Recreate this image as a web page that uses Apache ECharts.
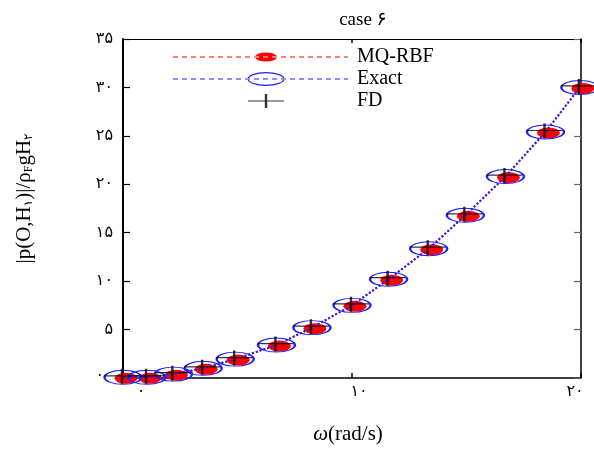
<!DOCTYPE html>
<html>
<head>
<meta charset="utf-8">
<script src="https://cdn.jsdelivr.net/npm/echarts@6/dist/echarts.min.js"></script>
<style>html,body{margin:0;padding:0;background:#fff;}#c{width:594px;height:450px;}</style>
</head>
<body>
<div id="c"></div>
<script>
// ---- data ----
const omega = [0, 1.05, 2.2, 3.5, 4.9, 6.7, 8.25, 10.0, 11.6, 13.35, 14.95, 16.7, 18.45, 19.95];
const mqRbf = [0.07, 0.07, 0.4, 1.0, 1.95, 3.4, 5.2, 7.5, 10.2, 13.35, 16.8, 20.8, 25.4, 30.0];
const exact = [0.07, 0.07, 0.4, 1.0, 1.95, 3.4, 5.2, 7.5, 10.2, 13.35, 16.8, 20.8, 25.4, 30.0];
const fd    = [0.07, 0.07, 0.4, 1.0, 1.95, 3.4, 5.2, 7.5, 10.2, 13.35, 16.8, 20.8, 25.4, 30.0];
const seriesNames = ['MQ-RBF', 'Exact', 'FD'];
const xTickLabels = ['۰', '۱۰', '۲۰'];
const yTickLabels = ['۰', '۵', '۱۰', '۱۵', '۲۰', '۲۵', '۳۰', '۳۵'];
const titleText = 'case ۶';

const pair = (ys) => omega.map((x, i) => [x, ys[i]]);

// ---- legend icon paths (175 x 14 box) ----
function dashes() {
  let s = '';
  for (let x = 0; x < 175; x += 9) {
    const w = Math.min(5, 175 - x);
    s += 'M' + x + ',6.5h' + w + 'v1h-' + w + 'z';
  }
  return s;
}
const box = 'M0,0M175,14';
const iconMQ = 'path://' + box + dashes() + 'M82,7a11,4.5 0 1,0 22,0a11,4.5 0 1,0 -22,0z';
const iconExact = 'path://' + box + dashes() +
  'M74.5,7a18.5,7 0 1,0 37,0a18.5,7 0 1,0 -37,0z' +
  'M75.7,7a17.3,5.8 0 1,1 34.6,0a17.3,5.8 0 1,1 -34.6,0z';
const iconFD = 'path://' + box + 'M75,6.4h36v1.2h-36z M91.8,0h2.4v14h-2.4z';

const serif = '"Liberation Serif", "DejaVu Serif", "DejaVu Sans", serif';
const digitFont = '"DejaVu Sans", sans-serif';

const chart = echarts.init(document.getElementById('c'), null, {renderer: 'canvas'});
const axisBlack = '#000';

chart.setOption({
  animation: false,
  backgroundColor: '#fff',
  title: {
    text: titleText,
    left: 358,
    top: 6,
    textAlign: 'center',
    textStyle: {fontFamily: serif, fontSize: 19, fontWeight: 'normal', color: '#000'}
  },
  legend: {
    orient: 'vertical',
    left: 168,
    top: 42,
    itemWidth: 175,
    itemHeight: 14,
    itemGap: 2,
    symbolKeepAspect: false,
    selectedMode: false,
    textStyle: {fontFamily: serif, fontSize: 20, lineHeight: 20, color: '#000', padding: [0, 0, 0, 4]},
    data: [
      {name: seriesNames[0], icon: iconMQ, itemStyle: {color: '#ff0000', borderWidth: 0}},
      {name: seriesNames[1], icon: iconExact, itemStyle: {color: '#2020ff', borderWidth: 0}},
      {name: seriesNames[2], icon: iconFD, itemStyle: {color: '#000', borderWidth: 0}}
    ]
  },
  grid: {left: 123, right: 13, top: 39, bottom: 70, containLabel: false},
  xAxis: [
    {
      type: 'value', position: 'bottom', min: 0, max: 20, interval: 10,
      axisLine: {show: true, onZero: false, lineStyle: {color: axisBlack, width: 1.5}},
      axisTick: {show: true, inside: true, length: 5, lineStyle: {color: axisBlack, width: 1.5}},
      splitLine: {show: false},
      axisLabel: {
        margin: 6,
        formatter: (v) => {
          const i = Math.round(v / 10);
          return '{l' + i + '|' + xTickLabels[i] + '}';
        },
        rich: {
          l0: {fontFamily: digitFont, fontSize: 16, color: '#000', padding: [0, 0, 0, 36]},
          l1: {fontFamily: digitFont, fontSize: 16, color: '#000', padding: [0, 0, 0, 14]},
          l2: {fontFamily: digitFont, fontSize: 16, color: '#000', padding: [0, 12, 0, 0]}
        }
      },
      name: '{w|ω}(rad/s)',
      nameLocation: 'middle',
      nameGap: 46,
      nameTextStyle: {
        fontFamily: serif, fontSize: 21, color: '#000', padding: [0, 8, 0, 0],
        rich: {w: {fontFamily: serif, fontSize: 21, fontStyle: 'italic', color: '#000'}}
      }
    },
    {
      type: 'value', position: 'top', min: 0, max: 20, interval: 10,
      axisLine: {show: true, onZero: false, lineStyle: {color: axisBlack, width: 1}},
      axisTick: {show: true, inside: true, length: 4, lineStyle: {color: axisBlack, width: 1.5}},
      axisLabel: {show: false},
      splitLine: {show: false}
    }
  ],
  yAxis: [
    {
      type: 'value', position: 'left', min: 0, max: 35, interval: 5,
      axisLine: {show: true, onZero: false, lineStyle: {color: axisBlack, width: 2}},
      axisTick: {show: true, inside: true, length: 7, lineStyle: {color: axisBlack, width: 1.2}},
      splitLine: {show: false},
      axisLabel: {
        margin: 10,
        formatter: (v) => {
          const i = Math.round(v / 5);
          return i === 0 ? '{z|' + yTickLabels[i] + '}' : yTickLabels[i];
        },
        fontFamily: digitFont, fontSize: 16, color: '#000',
        rich: {z: {fontFamily: digitFont, fontSize: 16, color: '#000', padding: [0, 9, 4, 0]}}
      },
      name: '|p(O,H{s|۱})|/ρ{s|F}gH{s|۲}',
      nameLocation: 'middle',
      nameGap: 88,
      nameTextStyle: {
        fontFamily: serif, fontSize: 21, color: '#000', padding: [0, 0, 0, 20],
        rich: {s: {fontFamily: serif, fontSize: 12, color: '#000', verticalAlign: 'bottom', padding: [7, 0, 0, 0]}}
      }
    },
    {
      type: 'value', position: 'right', min: 0, max: 35, interval: 5,
      axisLine: {show: true, onZero: false, lineStyle: {color: axisBlack, width: 1.5}},
      axisTick: {show: true, inside: true, length: 7, lineStyle: {color: '#666', width: 1.2}},
      axisLabel: {show: false},
      splitLine: {show: false}
    }
  ],
  series: [
    {
      name: seriesNames[0], type: 'line', xAxisIndex: 0, yAxisIndex: 0,
      data: pair(mqRbf),
      symbol: 'path://M0,4.5a11,4.5 0 1,0 22,0a11,4.5 0 1,0 -22,0z',
      symbolSize: [23, 11],
      symbolOffset: [3, 1],
      itemStyle: {color: '#ff0000'},
      lineStyle: {color: '#ff3030', type: 'dotted', width: 2},
      z: 2
    },
    {
      name: seriesNames[1], type: 'line', xAxisIndex: 0, yAxisIndex: 0,
      data: pair(exact),
      symbol: 'path://M0,6.5a18,6.5 0 1,0 36,0a18,6.5 0 1,0 -36,0z',
      symbolSize: [37, 14],
      itemStyle: {color: 'rgba(0,0,0,0)', borderColor: '#2020ff', borderWidth: 1.5},
      lineStyle: {color: '#2020ff', type: 'dotted', width: 2},
      z: 3
    },
    {
      name: seriesNames[2], type: 'scatter', xAxisIndex: 0, yAxisIndex: 0,
      data: pair(fd),
      symbol: 'path://M0,6.4h36v1.2h-36z M16.8,0h2.4v15h-2.4z',
      symbolSize: [36, 15],
      symbolOffset: [-1, -1],
      itemStyle: {color: '#000'},
      z: 4
    }
  ]
});
</script>
</body>
</html>
